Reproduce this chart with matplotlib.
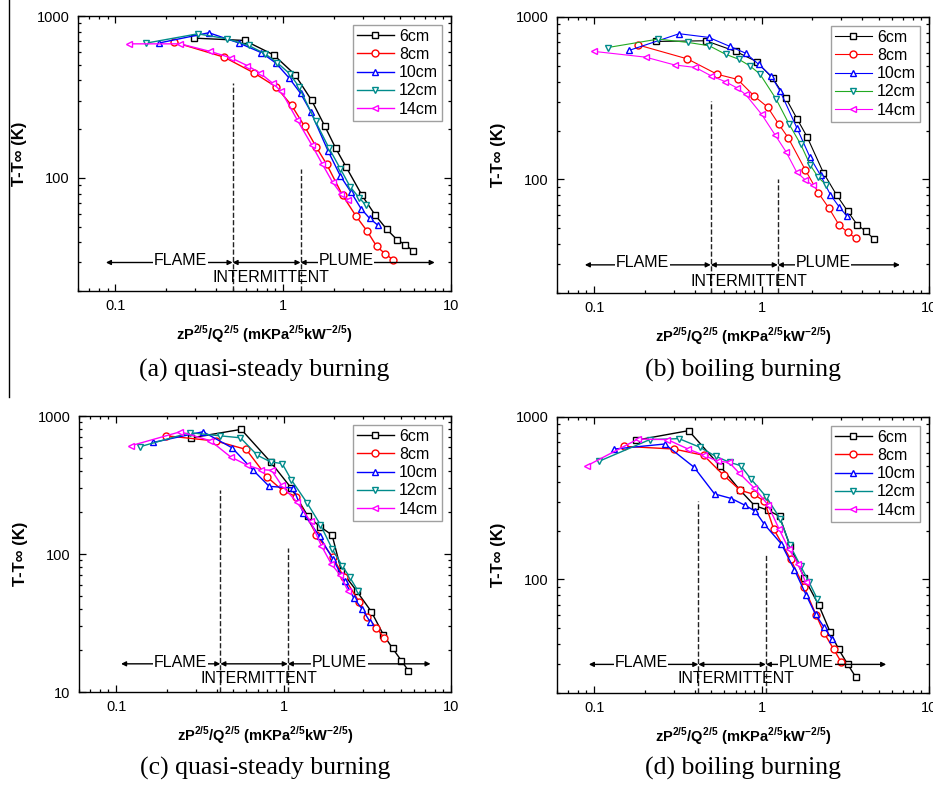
import matplotlib
matplotlib.use("Agg")
import matplotlib.pyplot as plt
from matplotlib.ticker import LogLocator, NullFormatter

plt.rcParams['font.family'] = ['Liberation Sans', 'DejaVu Sans']
plt.rcParams['mathtext.fontset'] = 'custom'
plt.rcParams['mathtext.rm'] = 'Liberation Sans'
plt.rcParams['mathtext.bf'] = 'Liberation Sans:bold'

labels = ['6cm', '8cm', '10cm', '12cm', '14cm']

# ---- (a) quasi-steady burning ----
a6_x = [0.295, 0.589, 0.879, 1.175, 1.479, 1.77, 2.06, 2.37, 2.95, 3.53, 4.15, 4.76, 5.35, 5.94]
a6_y = [730, 706, 575, 435, 301, 209, 152, 117, 78, 59, 48, 41.6, 38.5, 35.4]
a8_x = [0.224, 0.447, 0.673, 0.904, 1.122, 1.343, 1.57, 1.82, 2.26, 2.72, 3.16, 3.61, 4.06, 4.53]
a8_y = [690, 556, 444, 366, 281, 208, 156, 121, 78, 58, 47, 37.7, 33.9, 31.1]
a10_x = [0.181, 0.361, 0.544, 0.741, 0.904, 1.086, 1.27, 1.46, 1.85, 2.19, 2.54, 2.91, 3.27, 3.66]
a10_y = [680, 788, 682, 594, 513, 414, 333, 257, 147, 103, 81.5, 64.6, 56.3, 51.1]
a12_x = [0.153, 0.31, 0.463, 0.622, 0.783, 0.925, 1.096, 1.24, 1.56, 1.88, 2.19, 2.51, 2.84, 3.12]
a12_y = [680, 776, 723, 658, 583, 513, 439, 366, 223, 152, 114, 88, 75.2, 67.6]
a14_x = [0.121, 0.243, 0.368, 0.49, 0.611, 0.731, 0.867, 0.977, 1.21, 1.48, 1.71, 1.97, 2.21, 2.45]
a14_y = [673, 673, 604, 551, 494, 443, 384, 342, 229, 160, 122, 94, 80, 73]

# ---- (b) boiling burning ----
b6_x = [0.233, 0.465, 0.70, 0.933, 1.164, 1.39, 1.63, 1.87, 2.34, 2.81, 3.27, 3.72, 4.2, 4.69]
b6_y = [707, 714, 614, 532, 420, 319, 236, 183, 110, 80, 63.7, 52.7, 47.9, 43]
b8_x = [0.182, 0.361, 0.543, 0.719, 0.904, 1.086, 1.27, 1.44, 1.82, 2.18, 2.52, 2.9, 3.27, 3.65]
b8_y = [674, 552, 444, 413, 326, 279, 218, 181, 115, 82.8, 66.8, 52.5, 47.2, 43.5]
b10_x = [0.161, 0.322, 0.484, 0.647, 0.806, 0.959, 1.14, 1.29, 1.63, 1.94, 2.25, 2.58, 2.9, 3.22]
b10_y = [622, 789, 749, 659, 598, 512, 434, 350, 206, 138, 106, 80.4, 68, 59.8]
b12_x = [0.121, 0.241, 0.365, 0.487, 0.609, 0.729, 0.852, 0.977, 1.22, 1.46, 1.71, 1.95, 2.18, 2.42]
b12_y = [649, 731, 697, 665, 590, 550, 500, 446, 313, 219, 165, 123, 103, 93]
b14_x = [0.1, 0.203, 0.302, 0.403, 0.5, 0.607, 0.71, 0.802, 1.0, 1.2, 1.4, 1.62, 1.82, 2.02]
b14_y = [614, 566, 507, 489, 434, 400, 367, 334, 252, 189, 148, 111, 99.6, 91.9]

# ---- (c) quasi-steady burning ----
c6_x = [0.281, 0.558, 0.836, 1.11, 1.40, 1.65, 1.95, 2.21, 2.73, 3.34, 3.94, 4.48, 5.05, 5.56]
c6_y = [695, 800, 465, 301, 187, 158, 137, 75.7, 54, 38.3, 26.1, 20.7, 16.9, 14.3]
c8_x = [0.199, 0.396, 0.598, 0.798, 0.995, 1.19, 1.57, 1.97, 2.3, 2.82, 3.16, 3.58, 3.98]
c8_y = [719, 658, 572, 361, 286, 261, 138, 94.6, 67.6, 45.2, 35, 29.3, 24.7]
c10_x = [0.166, 0.33, 0.493, 0.659, 0.821, 1.14, 1.31, 1.64, 1.97, 2.32, 2.63, 2.95, 3.28]
c10_y = [643, 769, 588, 404, 309, 301, 199, 134, 92, 63.3, 47.9, 39.8, 32.4]
c12_x = [0.138, 0.275, 0.415, 0.553, 0.696, 0.836, 0.981, 1.11, 1.38, 1.66, 1.95, 2.24, 2.49, 2.78]
c12_y = [598, 757, 719, 695, 520, 465, 452, 346, 235, 163, 109, 82.2, 67.6, 54]
c14_x = [0.122, 0.242, 0.366, 0.482, 0.607, 0.729, 0.848, 0.973, 1.2, 1.45, 1.68, 1.93, 2.17, 2.43]
c14_y = [608, 769, 661, 506, 440, 409, 404, 315, 238, 172, 115, 84.5, 70.8, 54]

# ---- (d) boiling burning ----
d6_x = [0.177, 0.367, 0.567, 0.739, 0.908, 1.09, 1.28, 1.48, 1.8, 2.2, 2.57, 2.89, 3.27, 3.64]
d6_y = [719, 824, 497, 357, 285, 267, 245, 160, 102, 69.2, 47.4, 37.1, 30, 25.2]
d8_x = [0.15, 0.3, 0.451, 0.593, 0.746, 0.9, 1.04, 1.18, 1.49, 1.79, 2.12, 2.37, 2.7, 2.99]
d8_y = [660, 635, 581, 438, 354, 334, 303, 205, 133, 90.2, 60.1, 46.6, 37.1, 31]
d10_x = [0.132, 0.264, 0.395, 0.524, 0.66, 0.792, 0.917, 1.04, 1.31, 1.57, 1.85, 2.1, 2.35, 2.64]
d10_y = [635, 682, 491, 336, 315, 287, 263, 218, 166, 115, 79.8, 61, 51.2, 42.8]
d12_x = [0.107, 0.215, 0.321, 0.427, 0.532, 0.645, 0.749, 0.86, 1.07, 1.29, 1.48, 1.71, 1.92, 2.15]
d12_y = [534, 726, 736, 652, 573, 526, 502, 418, 321, 237, 162, 121, 96.4, 76]
d14_x = [0.091, 0.183, 0.274, 0.364, 0.453, 0.549, 0.639, 0.733, 0.9, 1.09, 1.27, 1.46, 1.65, 1.83]
d14_y = [502, 732, 726, 635, 581, 534, 526, 453, 367, 289, 205, 153, 125, 96.4]

# region boundaries (dashed lines) and arrow extents
a_bounds, a_tops, a_arrow = [0.5, 1.27], [384, 114], [0.088, 8.0]
b_bounds, b_tops, b_arrow = [0.497, 1.25], [303, 100], [0.088, 6.7]
c_bounds, c_tops, c_arrow = [0.419, 1.06], [292, 110], [0.107, 7.55]
d_bounds, d_tops, d_arrow = [0.419, 1.06], [303, 144], [0.093, 5.55]

panels = [
    dict(xs=[a6_x, a8_x, a10_x, a12_x, a14_x], ys=[a6_y, a8_y, a10_y, a12_y, a14_y],
         bounds=a_bounds, tops=a_tops, arrow=a_arrow, ay=30, iy=24.2,
         fx=0.245, px=2.37, ix=0.843, ylim=(20, 1000), yt=[100, 1000],
         box=(78, 451, 16, 291), cap='(a) quasi-steady burning', capy=370, boiling=False),
    dict(xs=[b6_x, b8_x, b10_x, b12_x, b14_x], ys=[b6_y, b8_y, b10_y, b12_y, b14_y],
         bounds=b_bounds, tops=b_tops, arrow=b_arrow, ay=29.8, iy=23.7,
         fx=0.194, px=2.33, ix=0.844, ylim=(20, 1000), yt=[100, 1000],
         box=(557, 929, 17, 293), cap='(b) boiling burning', capy=370, boiling=True),
    dict(xs=[c6_x, c8_x, c10_x, c12_x, c14_x], ys=[c6_y, c8_y, c10_y, c12_y, c14_y],
         bounds=c_bounds, tops=c_tops, arrow=c_arrow, ay=16, iy=12.5,
         fx=0.243, px=2.16, ix=0.71, ylim=(10, 1000), yt=[10, 100, 1000],
         box=(79, 451, 416, 692), cap='(c) quasi-steady burning', capy=768, boiling=False),
    dict(xs=[d6_x, d8_x, d10_x, d12_x, d14_x], ys=[d6_y, d8_y, d10_y, d12_y, d14_y],
         bounds=d_bounds, tops=d_tops, arrow=d_arrow, ay=30, iy=24.5,
         fx=0.191, px=1.85, ix=0.706, ylim=(20, 1000), yt=[100, 1000],
         box=(557, 929, 417, 693), cap='(d) boiling burning', capy=768, boiling=False),
]

colors = ['black', '#ff0000', '#0000ff', '#008b8b', '#ff00ff']
markers = ['s', 'o', '^', 'v', '<']

W, H = 933, 787
fig = plt.figure(figsize=(W / 100, H / 100), dpi=100)

xlabel = r'zP$^{\mathbf{2/5}}$/Q$^{\mathbf{2/5}}$ (mKPa$^{\mathbf{2/5}}$kW$^{\mathbf{-2/5}}$)'

for p in panels:
    l, r, t, b = p['box']
    ax = fig.add_axes([l / W, 1 - b / H, (r - l) / W, (b - t) / H])
    ax.set_xscale('log')
    ax.set_yscale('log')
    for i in range(5):
        lc = colors[i]
        if p['boiling'] and i == 3:
            lc = '#22aa22'
        ax.plot(p['xs'][i], p['ys'][i], color=lc, lw=0.8 if p['boiling'] else 1.0,
                marker=markers[i], ms=5, mfc='white', mec=colors[i], mew=1.0,
                label=labels[i])
    ax.set_xlim(0.06, 10)
    ax.set_ylim(*p['ylim'])
    ax.set_xticks([0.1, 1, 10])
    ax.set_xticklabels(['0.1', '1', '10'])
    ax.set_yticks(p['yt'])
    ax.set_yticklabels([str(v) for v in p['yt']])
    ax.xaxis.set_minor_locator(LogLocator(base=10, subs=range(2, 10)))
    ax.yaxis.set_minor_locator(LogLocator(base=10, subs=range(2, 10)))
    ax.xaxis.set_minor_formatter(NullFormatter())
    ax.yaxis.set_minor_formatter(NullFormatter())
    ax.tick_params(which='both', direction='in', top=True, right=True, width=0.9)
    ax.tick_params(which='major', length=5, labelsize=10.5, pad=6)
    ax.tick_params(which='minor', length=2.5)
    for s in ax.spines.values():
        s.set_linewidth(1.0)

    # dashed region boundaries
    for bx, top in zip(p['bounds'], p['tops']):
        ax.plot([bx, bx], [p['ylim'][0], top], ls='--', color='#222222', lw=1.0)

    # arrows
    pts = [p['arrow'][0], p['bounds'][0], p['bounds'][1], p['arrow'][1]]
    for k in range(3):
        ax.annotate('', xy=(pts[k + 1], p['ay']), xytext=(pts[k], p['ay']),
                    arrowprops=dict(arrowstyle='<|-|>', color='black', lw=1.0,
                                    shrinkA=0, shrinkB=0, mutation_scale=7))
    tb = dict(facecolor='white', edgecolor='none', pad=0.5)
    ax.text(p['fx'], p['ay'] * 1.03, 'FLAME', ha='center', va='center', fontsize=11.5, bbox=tb)
    ax.text(p['px'], p['ay'] * 1.03, 'PLUME', ha='center', va='center', fontsize=11.5, bbox=tb)
    ax.text(p['ix'], p['iy'], 'INTERMITTENT', ha='center', va='center', fontsize=11.5)

    ax.set_xlabel(xlabel, fontsize=10.5, fontweight='bold', labelpad=7,
                  family=['Liberation Sans Narrow', 'Liberation Sans'])
    ax.set_ylabel('T-T\u221e (K)', fontsize=12, fontweight='bold', labelpad=7)

    leg = ax.legend(loc='upper right', fontsize=11.5, frameon=True, fancybox=False,
                    edgecolor='#888888', handlelength=2.3, handletextpad=0.35,
                    labelspacing=0.2, borderpad=0.25, borderaxespad=0.55)
    leg.get_frame().set_linewidth(1.0)

    fig.text((l + r) / 2 / W, 1 - p['capy'] / H, p['cap'], ha='center', va='center',
             fontsize=18.5, family=['Liberation Serif', 'DejaVu Serif'])

# thin vertical rule at the left edge of the top half
fig.add_artist(plt.Line2D([9 / W, 9 / W], [1 - 397 / H, 1.0], color='black', lw=1.0))

fig.savefig('out.png', dpi=100)
